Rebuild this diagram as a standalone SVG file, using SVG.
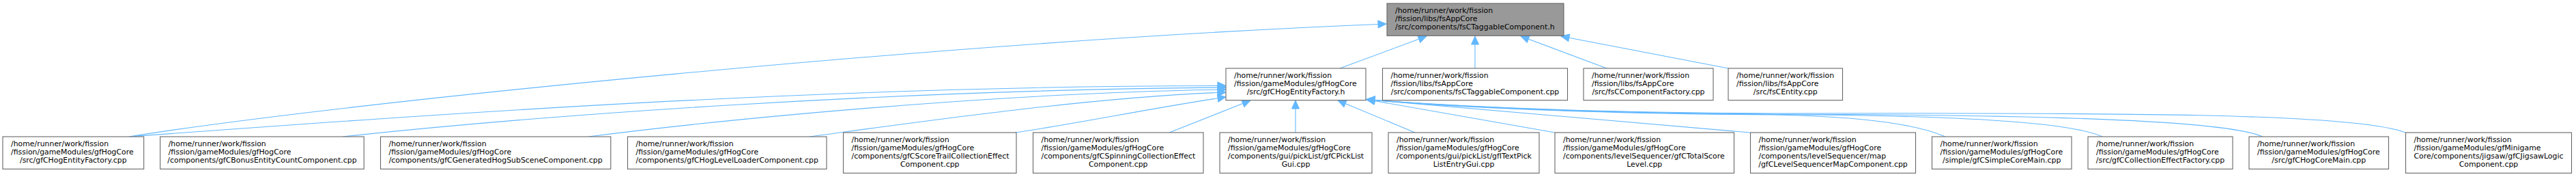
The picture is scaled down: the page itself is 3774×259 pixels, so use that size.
<svg xmlns="http://www.w3.org/2000/svg" width="3774" height="259" viewBox="0 0 3774 259">
<style>
.nd rect{fill:#ffffff;stroke:#666666;stroke-width:1.1}
#n_top rect{fill:#999999}
.nd text{font-family:"DejaVu Sans",sans-serif;font-size:10.9px;fill:#000000}
.nd text.c{text-anchor:middle}
.ed path{fill:none;stroke:#63B8FF;stroke-width:1.1;marker-end:url(#arr)}
</style>
<defs>
<marker id="arr" markerUnits="userSpaceOnUse" markerWidth="13" markerHeight="12" refX="12" refY="5.5" orient="auto" overflow="visible">
<path d="M0,0 L12,5.5 L0,11 z" fill="#63B8FF" stroke="#63B8FF" stroke-width="1"/>
</marker>
</defs>
<rect width="3774" height="259" fill="#ffffff"/>
<g class="ed" id="connectors">
<path d="M189,200 C500,150 1400,60 2031,35"/>
<path d="M1963,100 L2090,53"/>
<path d="M2161,100 L2161,53"/>
<path d="M2354,100 L2228,53"/>
<path d="M2532,100 L2287,53"/>
<path d="M189,200 C600,170 1200,125 1796,125.5"/>
<path d="M502,200 C800,168 1300,132 1796,128"/>
<path d="M862,200 C1050,176 1450,136 1796,131"/>
<path d="M1186,200 C1350,178 1600,142 1796,135"/>
<path d="M1487,194 C1560,184 1700,156 1796,142"/>
<path d="M1713,194 L1832,147"/>
<path d="M1898,194 L1898,147"/>
<path d="M2073,194 L1960,147"/>
<path d="M2278,194 L2002,145.5"/>
<path d="M2564,194 L2002,145.5"/>
<path d="M2850,200 C2800,178 2700,170 2600,168 C2350,166 2150,159 2002,145.5"/>
<path d="M3080,200 C3030,177 2850,169 2600,167.5 C2350,165.5 2150,158.5 2002,145.5"/>
<path d="M3315,200 C3260,176 3000,168 2600,167 C2350,165 2150,158 2002,145.5"/>
<path d="M3524,194 C3450,165 3100,165 2600,166 C2350,164.5 2150,157.5 2002,145.5"/>
</g>
<g class="nd" id="n_top">
<rect x="2032" y="5" width="259" height="47.3"/>
<text x="2044" y="19">/home/runner/work/fission</text>
<text x="2044" y="31">/fission/libs/fsAppCore</text>
<text x="2044" y="43">/src/components/fsCTaggableComponent.h</text>
</g>
<g class="nd" id="n_hogentityfactory_h">
<rect x="1796" y="100" width="205" height="46.7"/>
<text x="1808" y="113.7">/home/runner/work/fission</text>
<text x="1808" y="125.7">/fission/gameModules/gfHogCore</text>
<text class="c" x="1898.5" y="137.7">/src/gfCHogEntityFactory.h</text>
</g>
<g class="nd" id="n_taggable_cpp">
<rect x="2025.5" y="100" width="271" height="46.7"/>
<text x="2037.5" y="113.7">/home/runner/work/fission</text>
<text x="2037.5" y="125.7">/fission/libs/fsAppCore</text>
<text class="c" x="2161" y="137.7">/src/components/fsCTaggableComponent.cpp</text>
</g>
<g class="nd" id="n_componentfactory_cpp">
<rect x="2320" y="100" width="190" height="46.7"/>
<text x="2332" y="113.7">/home/runner/work/fission</text>
<text x="2332" y="125.7">/fission/libs/fsAppCore</text>
<text class="c" x="2415" y="137.7">/src/fsCComponentFactory.cpp</text>
</g>
<g class="nd" id="n_entity_cpp">
<rect x="2532" y="100" width="167.5" height="46.7"/>
<text x="2544" y="113.7">/home/runner/work/fission</text>
<text x="2544" y="125.7">/fission/libs/fsAppCore</text>
<text class="c" x="2615.75" y="137.7">/src/fsCEntity.cpp</text>
</g>
<g class="nd" id="n_b1">
<rect x="4" y="200" width="206.7" height="47.3"/>
<text x="16" y="214">/home/runner/work/fission</text>
<text x="16" y="226">/fission/gameModules/gfHogCore</text>
<text class="c" x="107.35" y="238">/src/gfCHogEntityFactory.cpp</text>
</g>
<g class="nd" id="n_b2">
<rect x="234.7" y="200" width="298.5" height="47.3"/>
<text x="246.7" y="214">/home/runner/work/fission</text>
<text x="246.7" y="226">/fission/gameModules/gfHogCore</text>
<text class="c" x="383.95" y="238">/components/gfCBonusEntityCountComponent.cpp</text>
</g>
<g class="nd" id="n_b3">
<rect x="557.5" y="200" width="337.3" height="47.3"/>
<text x="569.5" y="214">/home/runner/work/fission</text>
<text x="569.5" y="226">/fission/gameModules/gfHogCore</text>
<text class="c" x="726.15" y="238">/components/gfCGeneratedHogSubSceneComponent.cpp</text>
</g>
<g class="nd" id="n_b4">
<rect x="919.5" y="200" width="291.5" height="47.3"/>
<text x="931.5" y="214">/home/runner/work/fission</text>
<text x="931.5" y="226">/fission/gameModules/gfHogCore</text>
<text class="c" x="1065.25" y="238">/components/gfCHogLevelLoaderComponent.cpp</text>
</g>
<g class="nd" id="n_b5">
<rect x="1235.5" y="194" width="253.5" height="59.3"/>
<text x="1247.5" y="208">/home/runner/work/fission</text>
<text x="1247.5" y="220">/fission/gameModules/gfHogCore</text>
<text x="1247.5" y="232">/components/gfCScoreTrailCollectionEffect</text>
<text class="c" x="1362.25" y="244">Component.cpp</text>
</g>
<g class="nd" id="n_b6">
<rect x="1513.5" y="194" width="249.5" height="59.3"/>
<text x="1525.5" y="208">/home/runner/work/fission</text>
<text x="1525.5" y="220">/fission/gameModules/gfHogCore</text>
<text x="1525.5" y="232">/components/gfCSpinningCollectionEffect</text>
<text class="c" x="1638.25" y="244">Component.cpp</text>
</g>
<g class="nd" id="n_b7">
<rect x="1787" y="194" width="223" height="59.3"/>
<text x="1799" y="208">/home/runner/work/fission</text>
<text x="1799" y="220">/fission/gameModules/gfHogCore</text>
<text x="1799" y="232">/components/gui/pickList/gfCPickList</text>
<text class="c" x="1898.5" y="244">Gui.cpp</text>
</g>
<g class="nd" id="n_b8">
<rect x="2034" y="194" width="221" height="59.3"/>
<text x="2046" y="208">/home/runner/work/fission</text>
<text x="2046" y="220">/fission/gameModules/gfHogCore</text>
<text x="2046" y="232">/components/gui/pickList/gfITextPick</text>
<text class="c" x="2144.5" y="244">ListEntryGui.cpp</text>
</g>
<g class="nd" id="n_b9">
<rect x="2278" y="194" width="262.5" height="59.3"/>
<text x="2290" y="208">/home/runner/work/fission</text>
<text x="2290" y="220">/fission/gameModules/gfHogCore</text>
<text x="2290" y="232">/components/levelSequencer/gfCTotalScore</text>
<text class="c" x="2409.25" y="244">Level.cpp</text>
</g>
<g class="nd" id="n_b10">
<rect x="2564.5" y="194" width="242" height="59.3"/>
<text x="2576.5" y="208">/home/runner/work/fission</text>
<text x="2576.5" y="220">/fission/gameModules/gfHogCore</text>
<text x="2576.5" y="232">/components/levelSequencer/map</text>
<text class="c" x="2685.5" y="244">/gfCLevelSequencerMapComponent.cpp</text>
</g>
<g class="nd" id="n_b11">
<rect x="2830.5" y="200" width="204.5" height="47.3"/>
<text x="2842.5" y="214">/home/runner/work/fission</text>
<text x="2842.5" y="226">/fission/gameModules/gfHogCore</text>
<text class="c" x="2932.75" y="238">/simple/gfCSimpleCoreMain.cpp</text>
</g>
<g class="nd" id="n_b12">
<rect x="3059" y="200" width="212" height="47.3"/>
<text x="3071" y="214">/home/runner/work/fission</text>
<text x="3071" y="226">/fission/gameModules/gfHogCore</text>
<text class="c" x="3165" y="238">/src/gfCCollectionEffectFactory.cpp</text>
</g>
<g class="nd" id="n_b13">
<rect x="3295" y="200" width="204.5" height="47.3"/>
<text x="3307" y="214">/home/runner/work/fission</text>
<text x="3307" y="226">/fission/gameModules/gfHogCore</text>
<text class="c" x="3397.25" y="238">/src/gfCHogCoreMain.cpp</text>
</g>
<g class="nd" id="n_b14">
<rect x="3524.5" y="194" width="243" height="59.3"/>
<text x="3536.5" y="208">/home/runner/work/fission</text>
<text x="3536.5" y="220">/fission/gameModules/gfMinigame</text>
<text x="3536.5" y="232">Core/components/jigsaw/gfCJigsawLogic</text>
<text class="c" x="3646" y="244">Component.cpp</text>
</g>
</svg>
